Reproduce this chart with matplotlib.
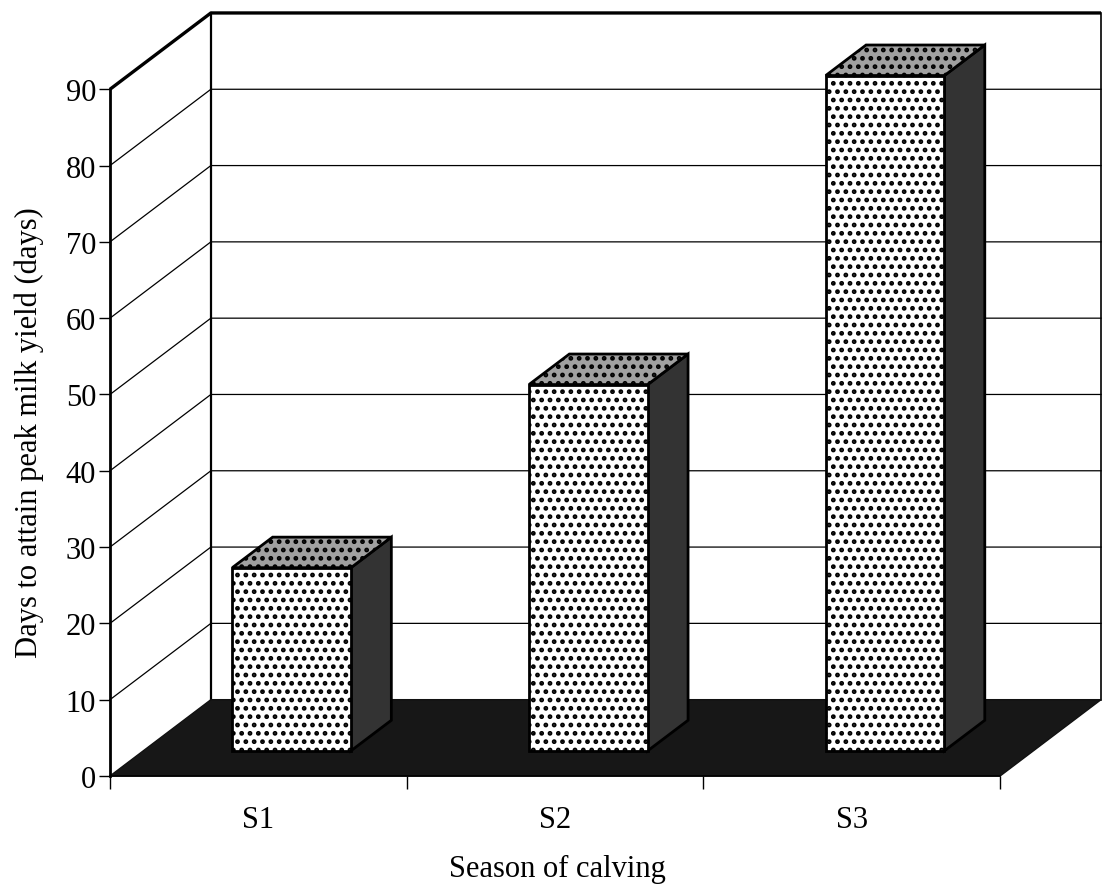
import matplotlib
matplotlib.use("Agg")
import matplotlib.pyplot as plt
from matplotlib.patches import Polygon

# Data
seasons = ["S1", "S2", "S3"]
days_to_peak = [24, 48, 88.5]
y_ticks = [0, 10, 20, 30, 40, 50, 60, 70, 80, 90]
x_label = "Season of calving"
y_label = "Days to attain peak milk yield (days)"

plt.rcParams['font.family'] = ['Liberation Serif', 'DejaVu Serif']
plt.rcParams['hatch.linewidth'] = 2.2

# Oblique projection of the depth axis (full depth, in data units)
DX, DY = 0.34, 10.0
BAR_W = 0.4          # bar width in category units
BAR_Z0, BAR_DZ = 0.33, 0.40   # bar front position and depth as fractions of full depth
y_top = y_ticks[-1]
n = len(seasons)
FS = 22

fig = plt.figure(figsize=(11.04, 8.87), dpi=100)
ax = fig.add_axes([0, 0, 1, 1])
ax.set_xlim(-0.3707, 3.350)
ax.set_ylim(-14.42, 101.83)

# Walls
side_wall = Polygon([(0, 0), (0, y_top), (DX, y_top + DY), (DX, DY)],
                    closed=True, facecolor='white', edgecolor='none', zorder=0)
back_wall = Polygon([(DX, DY), (DX, y_top + DY), (n + DX, y_top + DY), (n + DX, DY)],
                    closed=True, facecolor='white', edgecolor='black', lw=1.2, zorder=0)
ax.add_patch(side_wall)
ax.add_patch(back_wall)

# Gridlines on the side and back walls
for v in y_ticks[1:-1]:
    ax.plot([0, DX, n + DX], [v, v + DY, v + DY], color='black', lw=0.9, zorder=1)
# Wall outlines
ax.plot([0, DX, n + DX], [y_top, y_top + DY, y_top + DY], color='black', lw=2.4,
        zorder=1.5, solid_capstyle='butt')
ax.plot([DX, DX], [DY, y_top + DY], color='black', lw=1.6, zorder=1.5)

# Floor
floor = Polygon([(0, 0), (n, 0), (n + DX, DY), (DX, DY)], closed=True,
                facecolor='#171717', edgecolor='#111111', lw=1.0, zorder=2)
ax.add_patch(floor)

# 3D columns
for i, h in enumerate(days_to_peak):
    x0 = i + 0.5 - BAR_W / 2 + BAR_Z0 * DX
    x1 = x0 + BAR_W
    yb = BAR_Z0 * DY
    yt = h + yb
    ddx, ddy = BAR_DZ * DX, BAR_DZ * DY
    front = Polygon([(x0, yb), (x1, yb), (x1, yt), (x0, yt)], closed=True,
                    facecolor='white', edgecolor='black', hatch='..', lw=2.0, zorder=4)
    side = Polygon([(x1, yb), (x1 + ddx, yb + ddy), (x1 + ddx, yt + ddy), (x1, yt)],
                   closed=True, facecolor='#333333', edgecolor='black', lw=2.0, zorder=3)
    top = Polygon([(x0, yt), (x1, yt), (x1 + ddx, yt + ddy), (x0 + ddx, yt + ddy)],
                  closed=True, facecolor='#a0a0a0', edgecolor='black', hatch='..',
                  lw=2.0, zorder=3)
    ax.add_patch(side)
    ax.add_patch(top)
    ax.add_patch(front)

# Axes: front vertical axis and category axis
for s in ['top', 'right']:
    ax.spines[s].set_visible(False)
ax.spines['left'].set_position(('data', 0))
ax.spines['left'].set_bounds(0, y_top)
ax.spines['left'].set_linewidth(2.0)
ax.spines['left'].set_zorder(5)
ax.spines['bottom'].set_position(('data', 0))
ax.spines['bottom'].set_bounds(0, n)
ax.spines['bottom'].set_linewidth(1.2)
ax.spines['bottom'].set_zorder(5)

ax.set_yticks(y_ticks)
ax.set_yticklabels([str(t) for t in y_ticks])
ax.tick_params(axis='y', direction='out', length=8, width=1.0, pad=2, labelsize=FS)

ax.set_xticks(range(n + 1))
ax.set_xticklabels([''] * (n + 1))
ax.set_xticks([i + 0.5 for i in range(n)], minor=True)
ax.set_xticklabels(seasons, minor=True)
ax.tick_params(axis='x', which='major', direction='out', length=9, width=1.0)
ax.tick_params(axis='x', which='minor', length=0, pad=21, labelsize=FS)

fig.text(557 / 1104, 1 - 869 / 887, x_label, ha='center', va='center', fontsize=FS)
fig.text(29 / 1104, 1 - 433 / 887, y_label, ha='center', va='center',
         rotation=90, fontsize=FS)

fig.savefig("out.png", dpi=100)
